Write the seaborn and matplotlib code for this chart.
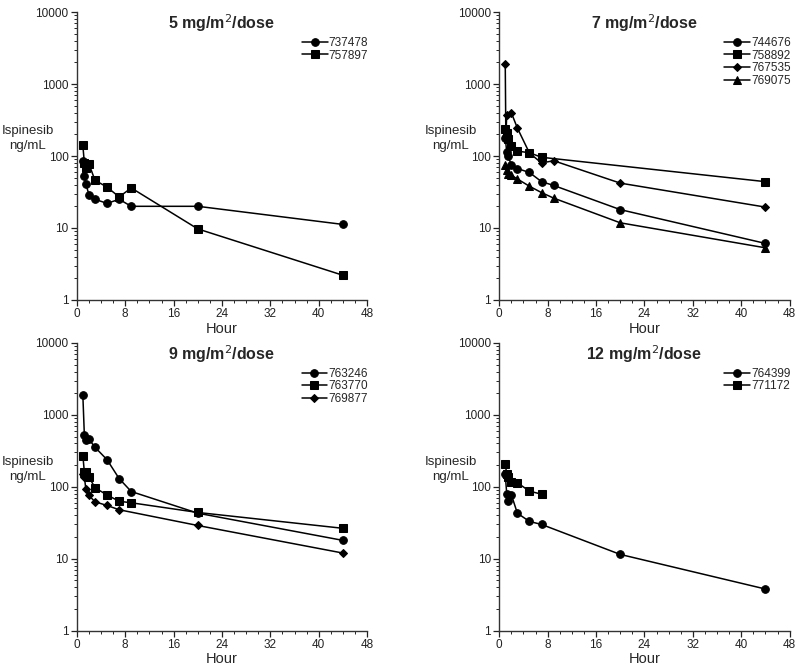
import matplotlib
matplotlib.use("Agg")
import matplotlib.pyplot as plt
from matplotlib.ticker import MultipleLocator, LogLocator, NullFormatter, FixedLocator
import seaborn as sns

# Sampling times (hours)
t_std = [1, 1.25, 1.5, 2, 3, 5, 7, 9, 20, 44]

# 5 mg/m2/dose
p5_737478 = [84, 52, 41, 29, 25, 22, 25, 20, 20, 11.2]
p5_757897 = [140, 80, 69, 78, 46, 37, 27, 36, 9.7, 2.2]

# 7 mg/m2/dose
p7_744676 = [180, 113, 100, 74, 67, 59, 44, 39, 18, 6.1]
t_758892 = [1, 1.25, 1.5, 2, 3, 5, 7, 44]
p7_758892 = [240, 208, 172, 138, 117, 111, 96, 44]
t_767535 = [1, 1.1, 1.25, 2, 3, 5, 7, 9, 20, 44]
p7_767535 = [1870, 190, 375, 400, 245, 110, 80, 86, 42, 19.5]
p7_769075 = [74, 63, 56, 54, 48, 38, 31, 26, 11.8, 5.3]

# 9 mg/m2/dose
p9_763246 = [1870, 520, 450, 460, 355, 238, 130, 86, 43, 18]
p9_763770 = [272, 160, 160, 138, 97, 77, 63, 60, 44, 26.5]
t_769877 = [1, 1.25, 1.5, 2, 3, 5, 7, 20, 44]
p9_769877 = [150, 138, 92, 76, 62, 55, 48, 29, 12]

# 12 mg/m2/dose
t_764399 = [1, 1.25, 1.5, 2, 3, 5, 7, 20, 44]
p12_764399 = [150, 79, 64, 78, 43, 33, 30, 11.5, 3.8]
t_771172 = [1, 1.25, 1.5, 2, 3, 5, 7]
p12_771172 = [205, 150, 138, 117, 114, 87, 79]

panels = [
    ("5", [("737478", t_std, p5_737478, "o"), ("757897", t_std, p5_757897, "s")]),
    ("7", [("744676", t_std, p7_744676, "o"), ("758892", t_758892, p7_758892, "s"),
           ("767535", t_767535, p7_767535, "D"), ("769075", t_std, p7_769075, "^")]),
    ("9", [("763246", t_std, p9_763246, "o"), ("763770", t_std, p9_763770, "s"),
           ("769877", t_769877, p9_769877, "D")]),
    ("12", [("764399", t_764399, p12_764399, "o"), ("771172", t_771172, p12_771172, "s")]),
]

sns.set_style("ticks")
plt.rcParams['font.family'] = ['Liberation Sans', 'DejaVu Sans']

fig = plt.figure(figsize=(8, 6.71), dpi=100)
lefts = [0.096, 0.624, 0.096, 0.624]
bottoms = [0.553, 0.553, 0.06, 0.06]
w, h = 0.363, 0.429

for i, (dose, series) in enumerate(panels):
    ax = fig.add_axes([lefts[i], bottoms[i], w, h])
    for name, t, v, m in series:
        ms = 4.5 if m == "D" else 5.5
        sns.lineplot(x=t, y=v, ax=ax, color="black", marker=m, markersize=ms,
                     markeredgecolor="black", linewidth=1.1, label=name,
                     estimator=None, sort=False)
    ax.set_yscale("log")
    ax.set_ylim(1, 10000)
    ax.set_xlim(0, 48)
    ax.xaxis.set_major_locator(MultipleLocator(8))
    ax.xaxis.set_minor_locator(MultipleLocator(2))
    ax.yaxis.set_major_locator(FixedLocator([1, 10, 100, 1000, 10000]))
    ax.yaxis.set_major_formatter(plt.FuncFormatter(lambda y, p: f"{int(y)}"))
    ax.yaxis.set_minor_locator(LogLocator(base=10, subs=range(2, 10)))
    ax.yaxis.set_minor_formatter(NullFormatter())
    ax.tick_params(axis="both", which="major", length=4, width=0.9, labelsize=8.5,
                   colors="#222222", pad=2)
    ax.tick_params(axis="both", which="minor", length=2.5, width=0.7)
    for s in ("left", "bottom"):
        ax.spines[s].set_linewidth(1.0)
        ax.spines[s].set_color("#333333")
    sns.despine(ax=ax)
    ax.set_xlabel("Hour", fontsize=10.5, labelpad=1)
    ax.set_ylabel("")
    ax.text(-0.168, 0.56, "Ispinesib\nng/mL", transform=ax.transAxes, ha="center",
            va="center", fontsize=9.5, linespacing=1.3)
    ax.text(0.5, 0.962, f"{dose} mg/m$^2$/dose", transform=ax.transAxes, ha="center",
            va="center", fontsize=11.5, fontweight="bold")
    ax.legend(loc="upper right", bbox_to_anchor=(1.02, 0.93), frameon=False,
              fontsize=8.5, handlelength=2.2, handletextpad=0.1,
              labelspacing=0.05, borderaxespad=0)

fig.savefig("out.png", dpi=100)
